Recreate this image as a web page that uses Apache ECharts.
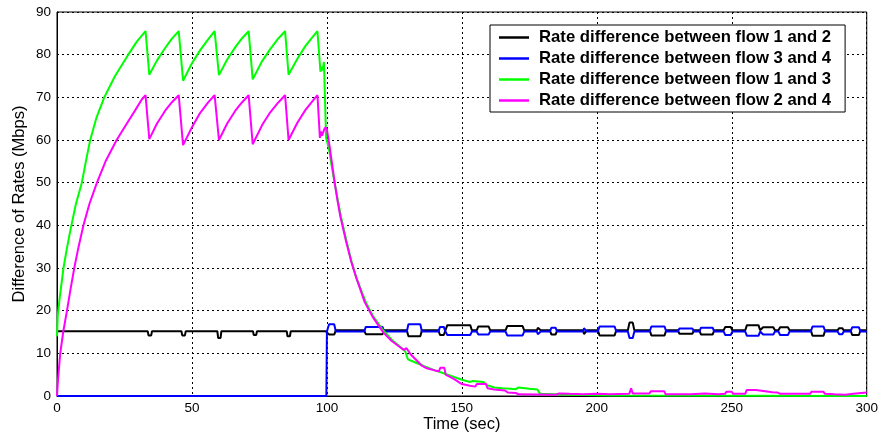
<!DOCTYPE html>
<html>
<head>
<meta charset="utf-8">
<script src="https://cdn.jsdelivr.net/npm/echarts@6/dist/echarts.min.js"></script>
<style>
  html, body { margin: 0; padding: 0; background: #fff; }
  #chart { width: 881px; height: 440px; }
</style>
</head>
<body>
<div id="chart"></div>
<script>
// ---------------- DATA ----------------
const seriesNames = [
  'Rate difference between flow 1 and 2',
  'Rate difference between flow 3 and 4',
  'Rate difference between flow 1 and 3',
  'Rate difference between flow 2 and 4'
];
const xTicks = [0, 50, 100, 150, 200, 250, 300];
const yTicks = [0, 10, 20, 30, 40, 50, 60, 70, 80, 90];

// flow 1 vs 2 before t=100 (level with small dips)
const black12Early = [
  [0, 15.2], [33.6, 15.2], [33.9, 14.2], [34.9, 14.2], [35.2, 15.2],
  [46.1, 15.2], [46.4, 14.2], [47.4, 14.2], [47.7, 15.2],
  [59.4, 15.2], [59.7, 13.6], [60.6, 13.6], [60.9, 15.2],
  [72.6, 15.2], [72.9, 14.3], [73.8, 14.3], [74.1, 15.2],
  [85.1, 15.2], [85.4, 14.0], [86.3, 14.0], [86.6, 15.2],
  [99.5, 15.2]
];
const black12Level = 15.4;   // after t = 100
const blue34Early = [[0, 0], [99.8, 0], [100, 15.1]];
const blue34Level = 15.1;    // after t = 100

// oscillation "bubbles" of flows 1-2 / 3-4 after t = 100
const bubStart = [100.2, 113.8, 129.6, 141.3, 144.0, 155.5, 166.2, 177.8, 182.6, 194.9, 200.4, 211.5, 219.6, 230.0, 238.0, 247.0, 255.0, 261.0, 267.3, 279.3, 289.2, 294.0];
const bubEnd   = [103.3, 121.2, 135.2, 143.9, 153.7, 160.5, 173.1, 179.2, 185.3, 196.3, 207.2, 213.9, 225.7, 236.0, 243.5, 250.2, 260.5, 266.0, 271.4, 284.6, 291.5, 297.7];
const bubOwner = ['b', 'b', 'b', 'b', 'k', 'k', 'k', 'k', 'b', 'b', 'b', 'k', 'b', 'b', 'b', 'k', 'k', 'k', 'k', 'b', 'k', 'b'];
const bubHigh  = [16.8, 16.2, 16.8, 16.2, 16.6, 16.3, 16.4, 16.0, 16.0, 15.9, 16.3, 17.2, 16.3, 15.8, 16.0, 16.2, 16.6, 16.1, 16.1, 16.3, 15.9, 16.1];
const bubLow   = [14.4, 14.5, 14.0, 14.3, 14.3, 14.4, 14.2, 14.5, 14.4, 14.5, 14.2, 13.6, 14.2, 14.6, 14.4, 14.3, 14.1, 14.4, 14.3, 14.1, 14.5, 14.3];

// flow 1 vs 3
const green13 = [
  [0, 14], [0.3, 19], [1, 23], [2.4, 30], [3.5, 34], [5, 39], [7, 45], [9.2, 50], [10.7, 55],
  [12.3, 60], [14.5, 65], [17.5, 70], [21.5, 75], [26.4, 80], [29.5, 83], [32.8, 85.5],
  [34.2, 75.3], [37, 78.6], [40, 81.5], [42.5, 83.7], [45.1, 85.5],
  [46.7, 73.9], [50, 78], [53, 81], [56, 83.6], [58.4, 85.5],
  [60, 75.2], [63, 78.8], [66, 81.7], [68.5, 83.8], [71, 85.5],
  [72.5, 74.2], [76, 78.5], [79, 81.3], [82, 83.8], [84.5, 85.5],
  [85.8, 75.3], [89, 79], [92, 82], [94.5, 84], [96.5, 85.5],
  [97.6, 76], [98, 77.2], [98.4, 76.3], [98.9, 78.3], [99.5, 78.3], [99.7, 60.5],
  [100.5, 58.5], [101, 57], [102, 53], [103, 49.5], [104, 46], [105.2, 42], [107, 37], [108.9, 32],
  [111, 27.5], [114.4, 22], [117, 18.8], [121, 15.3], [124, 13.2], [127, 11.6], [129, 10.5],
  [130, 8.6], [133, 7.8], [136, 7], [140, 6], [143, 5.4], [146, 4.7], [150, 3.8], [153, 3.3],
  [154, 3.5], [158, 3.3], [159, 2.6], [162, 2.0], [165, 1.8], [168, 1.7], [170, 1.6],
  [171, 2.0], [175, 1.7], [178, 1.5], [179, 0.5], [190, 0.3], [205, 0.1], [300, 0.0]
];

// flow 2 vs 4
const magenta24 = [
  [0, 0], [0.4, 4], [1.2, 10], [2.3, 15], [3.7, 20], [5, 25], [6.4, 30], [8, 35], [9.8, 40],
  [12, 45], [14.8, 50], [18, 55], [22.1, 60], [26, 64], [29, 67], [31.4, 69.5], [32.8, 70.5],
  [34.2, 60.2], [37, 63.8], [40, 66.8], [42.5, 68.8], [45.1, 70.5],
  [46.7, 58.8], [50, 63], [53, 66.3], [56, 68.8], [58.4, 70.5],
  [60, 60], [63, 63.8], [66, 66.8], [68.5, 68.8], [71, 70.5],
  [72.5, 59], [76, 63.5], [79, 66.5], [82, 68.8], [84.5, 70.5],
  [85.8, 60], [89, 64], [92, 67], [94.5, 69], [96.5, 70.5],
  [97.4, 60.5], [97.8, 62], [98.2, 61], [99, 62.5], [99.5, 63], [100, 62.5],
  [101, 58.5], [102, 54], [103, 49.5], [104, 45.5], [105, 42], [107, 36.5], [109, 31.5], [111, 27.5],
  [114, 22], [117, 18.5], [121, 14.8], [124, 12.9], [127, 11.5], [128.5, 10.8], [129.5, 11.2],
  [131, 9.8], [133, 8.5], [135, 7.2], [137, 6.5], [140, 6], [141.5, 5.8], [142, 6.6], [143.5, 6.6],
  [144, 5], [147, 4], [150, 2.8], [153, 2.4], [155, 2.2], [155.5, 2.8], [159, 2.8], [159.5, 1.8],
  [162, 1.5], [166, 1.3], [167, 0.8], [170, 0.7], [171, 0.4], [185, 0.3], [186, 0.6], [190, 0.5],
  [195, 0.4], [200, 0.5], [205, 0.4], [212, 0.5], [212.7, 1.8], [213.3, 0.6], [219.5, 0.6],
  [220, 1.1], [225, 1.1], [225.5, 0.4], [235, 0.4], [240, 0.6], [245, 0.4], [247.5, 0.5],
  [248, 1.0], [250, 1.0], [250.5, 0.5], [255, 0.5], [255.5, 1.4], [259, 1.4], [259.5, 1.0],
  [265, 0.9], [267, 0.8], [268, 0.5], [279, 0.5], [279.5, 1.0], [284, 1.0], [284.5, 0.5],
  [288, 0.4], [292, 0.3], [295, 0.5], [295.5, 0.8], [300, 0.8]
];

// ---------------- BUILD ----------------
function withBubbles(start, base, me) {
  const pts = start.slice();
  pts.push([100, base]);
  for (let i = 0; i < bubStart.length; i++) {
    const s = bubStart[i], e = bubEnd[i];
    const v = bubOwner[i] === me ? bubHigh[i] : bubLow[i];
    const r = Math.min(0.6, (e - s) / 4);
    pts.push([s, base], [s + r, v], [e - r, v], [e, base]);
  }
  pts.push([300, base]);
  return pts;
}
const blackData = withBubbles(black12Early, black12Level, 'k');
const blueData = withBubbles(blue34Early, blue34Level, 'b');

const colors = ['#000000', '#0000ff', '#00ff00', '#ff00ff'];
const datasets = [blackData, blueData, green13, magenta24];

const chart = echarts.init(document.getElementById('chart'), null, { renderer: 'canvas' });
const font = 'Arial, "Liberation Sans", Helvetica, sans-serif';

chart.setOption({
  animation: false,
  backgroundColor: '#ffffff',
  grid: {
    left: 57, right: 11, top: 12, bottom: 44,
    show: true, borderColor: '#000', borderWidth: 1, backgroundColor: '#fff'
  },
  legend: {
    orient: 'vertical',
    left: 490, top: 25,
    padding: [4, 14, 3, 9],
    itemGap: 4,
    itemWidth: 30, itemHeight: 2.5,
    icon: 'rect',
    backgroundColor: '#fff',
    borderColor: '#000', borderWidth: 1,
    data: seriesNames,
    textStyle: {
      fontFamily: font, fontSize: 16.7, fontWeight: 'bold', color: '#000',
      lineHeight: 15.5, padding: [0, 0, 0, 5]
    }
  },
  xAxis: {
    type: 'value', min: xTicks[0], max: xTicks[xTicks.length - 1], interval: 50,
    name: 'Time (sec)', nameLocation: 'middle', nameGap: 20, nameMoveOverlap: false,
    nameTextStyle: { fontFamily: font, fontSize: 16.5, color: '#000' },
    axisLine: { lineStyle: { color: '#000', width: 1 } },
    axisTick: { show: false },
    axisLabel: { fontFamily: font, fontSize: 13.5, color: '#000', margin: 5 },
    splitLine: { show: true, lineStyle: { color: '#000', type: [2, 3], width: 1 } }
  },
  yAxis: {
    type: 'value', min: yTicks[0], max: yTicks[yTicks.length - 1], interval: 10,
    name: 'Difference of Rates (Mbps)', nameLocation: 'middle', nameGap: 29, nameRotate: 90,
    nameMoveOverlap: false,
    nameTextStyle: { fontFamily: font, fontSize: 16.5, color: '#000' },
    axisLine: { show: true, lineStyle: { color: '#000', width: 1 } },
    axisTick: { show: false },
    axisLabel: { fontFamily: font, fontSize: 13.5, color: '#000', margin: 6 },
    splitLine: { show: true, lineStyle: { color: '#000', type: [2, 3], width: 1 } }
  },
  series: seriesNames.map((n, i) => ({
    name: n,
    type: 'line',
    data: datasets[i],
    showSymbol: false,
    symbol: 'none',
    color: colors[i],
    lineStyle: { color: colors[i], width: 2 },
    z: 2 + i
  }))
});
</script>
</body>
</html>
